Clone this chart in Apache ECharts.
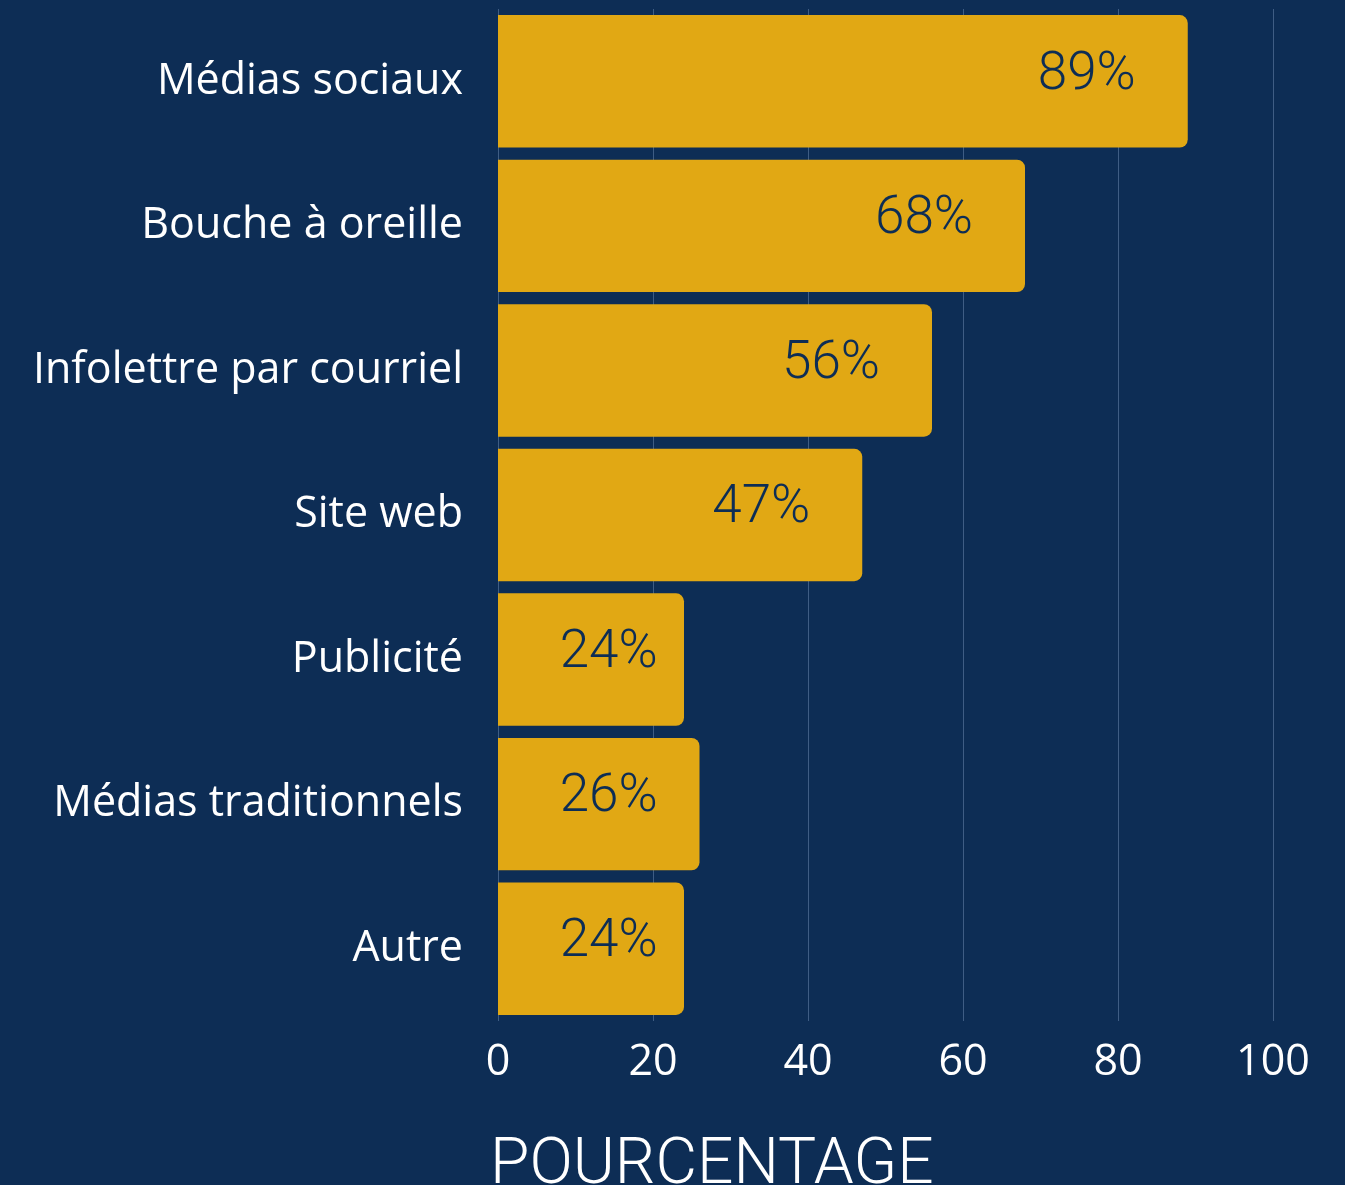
<!DOCTYPE html>
<html>
<head>
<meta charset="utf-8">
<script src="https://cdn.jsdelivr.net/npm/echarts@6/dist/echarts.min.js"></script>
<style>
  html, body { margin: 0; padding: 0; background: #0d2d55; }
  #chart { width: 1345px; height: 1185px; }
</style>
</head>
<body>
<div id="chart"></div>
<script>
// data
var categories = [
  "Médias sociaux",
  "Bouche à oreille",
  "Infolettre par courriel",
  "Site web",
  "Publicité",
  "Médias traditionnels",
  "Autre"
];
var values = [89, 68, 56, 47, 24, 26, 24];
var tickMin = 0;
var tickMax = 100;
var tickStep = 20;
var axisTitle = "POURCENTAGE";

var dom = document.getElementById("chart");
var chart = echarts.init(dom);

var option = {
  backgroundColor: "#0d2d55",
  animation: false,
  title: {
    text: axisTitle,
    left: 485,
    top: 1130,
    textStyle: {
      color: "#ffffff",
      fontFamily: "Roboto",
      fontWeight: 300,
      fontSize: 64
    }
  },
  grid: {
    left: 498,
    right: 72,
    top: 9,
    height: 1012,
    containLabel: false
  },
  xAxis: {
    type: "value",
    min: tickMin,
    max: tickMax,
    interval: tickStep,
    axisLine: { show: false },
    axisTick: { show: false },
    splitLine: { lineStyle: { color: "#3f5d84", width: 1 } },
    axisLabel: {
      color: "#ffffff",
      fontFamily: "Open Sans",
      fontSize: 43,
      margin: 20
    }
  },
  yAxis: {
    type: "category",
    data: categories,
    inverse: true,
    axisLine: { show: false },
    axisTick: { show: false },
    splitLine: { show: false },
    axisLabel: {
      color: "#ffffff",
      fontFamily: "Open Sans",
      fontSize: 43,
      margin: 35
    }
  },
  series: [
    {
      type: "bar",
      data: values,
      barCategoryGap: "8.4%",
      itemStyle: {
        color: "#e1a814",
        borderRadius: [0, 8, 8, 0]
      },
      label: {
        show: true,
        position: "insideRight",
        distance: 52,
        offset: [0, -6],
        formatter: "{c}%",
        color: "#0d2d55",
        fontFamily: "Roboto",
        fontWeight: 300,
        fontSize: 53
      }
    }
  ]
};

chart.setOption(option);

// keep the short bars' labels from sliding too far left
var minRight = chart.convertToPixel({ xAxisIndex: 0 }, 20.6);
chart.setOption({
  series: [{
    data: values.map(function (v) {
      var end = chart.convertToPixel({ xAxisIndex: 0 }, v);
      return { value: v, label: { distance: Math.min(52, end - minRight) } };
    })
  }]
});
</script>
</body>
</html>
